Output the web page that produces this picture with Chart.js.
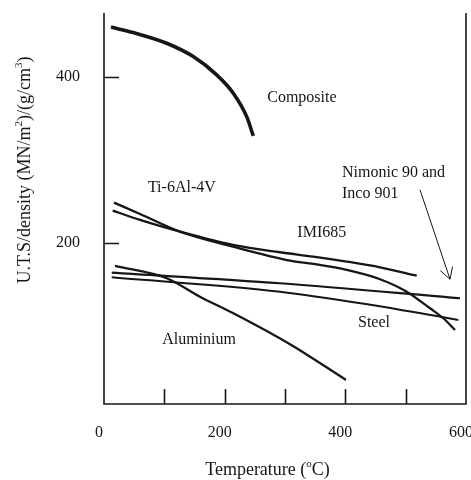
<!DOCTYPE html>
<html>
<head>
<meta charset="utf-8">
<script src="https://cdn.jsdelivr.net/npm/chart.js@4.4.0/dist/chart.umd.min.js"></script>
<style>
  html, body { margin: 0; padding: 0; background: #fff; }
  canvas { display: block; }
</style>
</head>
<body>
<canvas id="utsChart" width="471" height="480"></canvas>
<script>
// curves: [temperature (°C), U.T.S/density]
const composite = [[11.6, 460], [48.6, 453.4], [103.9, 440.6], [148, 424.5], [186.8, 402.4], [214.3, 380.4], [236.5, 352.2], [247.5, 328.9]];
const nimonic = [[16.6, 248.6], [59.7, 234.9], [126, 213.6], [213.8, 195.5], [308.3, 178.7], [346.9, 174.7], [402.3, 167.5], [457.5, 156.3], [501.7, 141.3], [540.4, 121.3], [562.4, 109.3], [581.8, 95.2]];
const imi685 = [[14.4, 239], [59.7, 227.7], [126, 213.6], [213.8, 197.6], [291.7, 188.8], [347, 183.5], [402.3, 177.5], [457.5, 170.7], [518.3, 160.6]];
const aluminium = [[18.2, 172.3], [104, 157.5], [159, 135.3], [214.4, 115.3], [308.3, 78], [401, 35]];
const steelA = [[12.8, 164.2], [291.7, 151.4], [590, 133.4]];
const steelB = [[12.8, 158.7], [291.7, 141.3], [441, 125.5], [587.3, 107.2]];

const xTicks = [0, 200, 400, 600];
const xTickMarks = [100, 200, 300, 400, 500];
const yTicks = [200, 400];

// text on the plot, placed in data units
const curveLabels = [
  { text: 'Composite', x: 328, y: 375, align: 'center' },
  { text: 'Ti-6Al-4V', x: 129, y: 266, align: 'center' },
  { text: 'IMI685', x: 361, y: 212, align: 'center' },
  { text: 'Nimonic 90 and', x: 394.5, y: 284.3, align: 'left' },
  { text: 'Inco 901', x: 394.5, y: 259, align: 'left' },
  { text: 'Aluminium', x: 157.5, y: 83, align: 'center' },
  { text: 'Steel', x: 447.5, y: 103.6, align: 'center' }
];
const arrowFrom = [523.8, 263.9];
const arrowTo = [573.5, 156.3];

const serif = "'Liberation Serif', 'DejaVu Serif', serif";
const ink = '#161616';

function toPoints(list) {
  return list.map(p => ({ x: p[0], y: p[1] }));
}

function curve(list, width) {
  return {
    data: toPoints(list),
    showLine: true,
    borderColor: ink,
    borderWidth: width,
    pointRadius: 0,
    cubicInterpolationMode: 'monotone',
    fill: false
  };
}

// no extra room for overhanging tick labels
function noPadding(s) {
  s.paddingLeft = 0;
  s.paddingRight = 0;
  s.paddingTop = 0;
  s.paddingBottom = 0;
}

// draws text with superscript parts, pieces = [[text, isSup], ...]
function drawRich(ctx, pieces, size) {
  const big = size + 'px ' + serif;
  const small = Math.round(size * 0.62) + 'px ' + serif;
  let total = 0;
  pieces.forEach(p => {
    ctx.font = p[1] ? small : big;
    total += ctx.measureText(p[0]).width;
  });
  let pos = -total / 2;
  ctx.textAlign = 'left';
  ctx.textBaseline = 'alphabetic';
  pieces.forEach(p => {
    ctx.font = p[1] ? small : big;
    ctx.fillText(p[0], pos, p[1] ? -size * 0.42 : 0);
    pos += ctx.measureText(p[0]).width;
  });
}

const figurePlugin = {
  id: 'figure',
  afterDraw(chart) {
    const { ctx, chartArea: a, scales } = chart;
    const x = scales.x, y = scales.y;
    ctx.save();

    // frame: left, bottom and right sides only
    ctx.strokeStyle = ink;
    ctx.lineWidth = 1.6;
    ctx.beginPath();
    ctx.moveTo(a.left, a.top);
    ctx.lineTo(a.left, a.bottom);
    ctx.lineTo(a.right, a.bottom);
    ctx.lineTo(a.right, a.top);
    ctx.stroke();

    // inward tick marks
    ctx.beginPath();
    xTickMarks.forEach(v => {
      const px = Math.round(x.getPixelForValue(v)) + 0.5;
      ctx.moveTo(px, a.bottom);
      ctx.lineTo(px, a.bottom - 15);
    });
    yTicks.forEach(v => {
      const py = Math.round(y.getPixelForValue(v)) + 0.5;
      ctx.moveTo(a.left, py);
      ctx.lineTo(a.left + 15, py);
    });
    ctx.stroke();

    // curve names
    ctx.fillStyle = ink;
    ctx.font = '16px ' + serif;
    ctx.textBaseline = 'middle';
    curveLabels.forEach(l => {
      ctx.textAlign = l.align;
      ctx.fillText(l.text, x.getPixelForValue(l.x), y.getPixelForValue(l.y));
    });

    // pointer to the Nimonic curve
    const x0 = x.getPixelForValue(arrowFrom[0]), y0 = y.getPixelForValue(arrowFrom[1]);
    const x1 = x.getPixelForValue(arrowTo[0]), y1 = y.getPixelForValue(arrowTo[1]);
    const ang = Math.atan2(y1 - y0, x1 - x0);
    ctx.lineWidth = 1;
    ctx.beginPath();
    ctx.moveTo(x0, y0);
    ctx.lineTo(x1, y1);
    ctx.moveTo(x1 - 13 * Math.cos(ang - 0.52), y1 - 13 * Math.sin(ang - 0.52));
    ctx.lineTo(x1, y1);
    ctx.lineTo(x1 - 13 * Math.cos(ang + 0.52), y1 - 13 * Math.sin(ang + 0.52));
    ctx.stroke();

    // axis titles
    ctx.save();
    ctx.translate(267.5, 475);
    drawRich(ctx, [['Temperature (', false], ['o', true], ['C)', false]], 18);
    ctx.restore();

    ctx.save();
    ctx.translate(30, 170);
    ctx.rotate(-Math.PI / 2);
    drawRich(ctx, [['U.T.S/density (MN/m', false], ['2', true], [')/(g/cm', false], ['3', true], [')', false]], 18);
    ctx.restore();

    ctx.restore();
  }
};

new Chart(document.getElementById('utsChart'), {
  type: 'scatter',
  data: {
    datasets: [
      curve(composite, 3.6),
      curve(nimonic, 2.3),
      curve(imi685, 2.3),
      curve(aluminium, 2.3),
      curve(steelA, 2.1),
      curve(steelB, 2.1)
    ]
  },
  options: {
    responsive: false,
    animation: false,
    devicePixelRatio: 1,
    layout: { padding: { top: 13, right: 5, left: 0, bottom: 0 } },
    plugins: { legend: { display: false }, tooltip: { enabled: false } },
    scales: {
      x: {
        type: 'linear',
        min: 0,
        max: 600,
        grid: { display: false, drawTicks: false },
        border: { display: false },
        afterBuildTicks: s => { s.ticks = xTicks.map(v => ({ value: v })); },
        afterFit: s => { s.height = 76; noPadding(s); },
        ticks: {
          font: { family: serif, size: 16 },
          color: ink,
          padding: 19,
          labelOffset: -5,
          maxRotation: 0
        }
      },
      y: {
        type: 'linear',
        min: 6,
        max: 477,
        grid: { display: false, drawTicks: false },
        border: { display: false },
        afterBuildTicks: s => { s.ticks = yTicks.map(v => ({ value: v })); },
        afterFit: s => { s.width = 104; noPadding(s); },
        ticks: {
          font: { family: serif, size: 16 },
          color: ink,
          padding: 24
        }
      }
    }
  },
  plugins: [figurePlugin]
});
</script>
</body>
</html>
